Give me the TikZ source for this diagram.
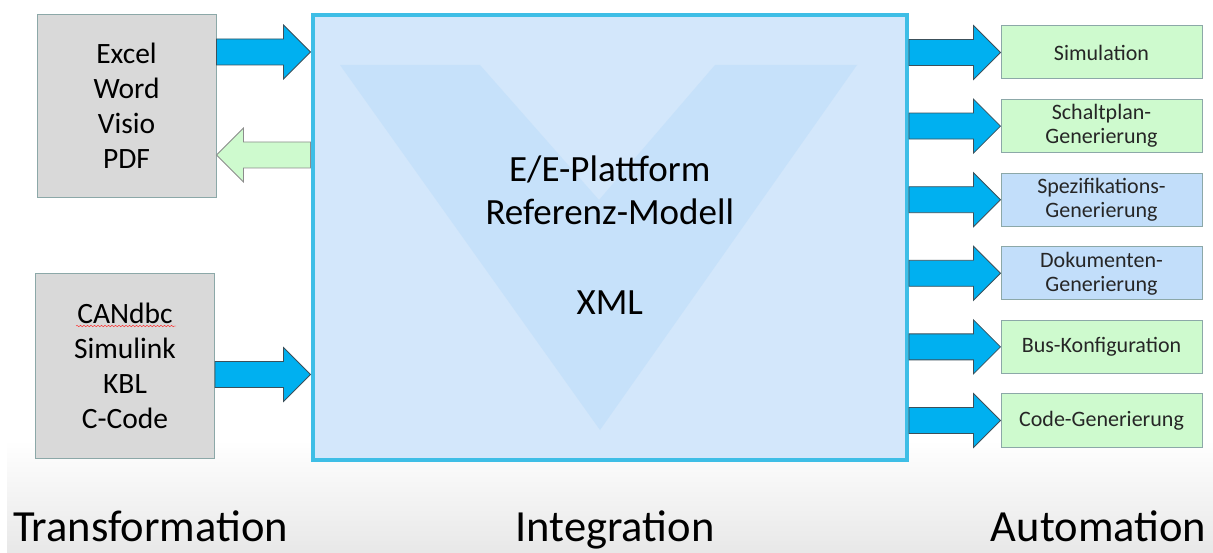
\documentclass[tikz,border=0pt]{standalone}
\usepackage{fontspec}
\setmainfont{Carlito}
\usetikzlibrary{calc,positioning,decorations.pathmorphing}

\definecolor{boxgrey}{RGB}{217,217,217}
\definecolor{boxedge}{RGB}{140,168,168}
\definecolor{coreblue}{RGB}{211,231,251}
\definecolor{vblue}{RGB}{198,225,250}
\definecolor{coreedge}{RGB}{62,190,230}
\definecolor{arrowblue}{RGB}{0,176,240}
\definecolor{arrowedge}{RGB}{60,80,90}
\definecolor{outgreen}{RGB}{206,250,206}
\definecolor{outblue}{RGB}{194,222,250}

% block arrow from #2 to #3, tip at #3
\newcommand{\fatarrow}[3][fatblue]{%
  \coordinate (fa-s) at (#2);
  \coordinate (fa-t) at (#3);
  \coordinate (fa-b) at ($(fa-t)!27pt!(fa-s)$);
  \draw[#1] ($(fa-s)!13pt!90:(fa-t)$) -- ($(fa-b)!13pt!90:(fa-t)$)
    -- ($(fa-b)!27pt!90:(fa-t)$) -- (fa-t) -- ($(fa-b)!27pt!-90:(fa-t)$)
    -- ($(fa-b)!13pt!-90:(fa-t)$) -- ($(fa-s)!13pt!-90:(fa-t)$) -- cycle;}

\tikzset{
  srcbox/.style={draw=boxedge, fill=boxgrey, line width=1pt, minimum width=179pt,
    minimum height=183pt, align=center, font=\fontsize{29.5}{35}\selectfont},
  outbox/.style={draw=boxedge, line width=1pt, minimum width=201pt, minimum height=53pt,
    align=center, font=\fontsize{22}{24}\selectfont, text=black!85},
  fatblue/.style={draw=arrowedge, fill=arrowblue, line width=0.8pt},
  fatgreen/.style={draw=black!45, fill=outgreen, line width=0.8pt},
  phase/.style={font=\fontsize{44.5}{50}\selectfont, anchor=base}
}

\begin{document}
\begin{tikzpicture}[x=1pt, y=1pt]
  \useasboundingbox (0,0) rectangle (1213,552);
  \shade[top color=white, bottom color=black!9] (7,0) rectangle (1213,112);

  % sources
  \node[srcbox] (office) at (126.5,446) {Excel\\Word\\Visio\\PDF};
  \node[srcbox, minimum height=184pt] (tools) at (125,186)
    {CANdbc\\Simulink\\KBL\\C-Code};
  \draw[red!85, decorate, decoration={snake, amplitude=0.8pt, segment length=3.5pt}]
    (76,226) -- (176,226);

  % reference model, the V behind its text
  \node[draw=coreedge, fill=coreblue, line width=4pt, minimum width=594.5pt,
    minimum height=444.5pt] (core) at (609.75,314.75) {};
  \fill[vblue] (340,487) -- (480,487) -- (599,352) -- (715,487)
    -- (857,487) -- (600,122) -- cycle;
  \node[align=center, font=\fontsize{37}{43}\selectfont] (model) at (609.75,317)
    {E/E-Plattform\\Referenz-Modell\\[47pt]XML};

  % outputs
  \node[outbox, fill=outgreen] (sim) at (1101.5,499.5) {Simulation};
  \node[outbox, fill=outgreen, below=19.6pt of sim] (wiring) {Schaltplan-\\Generierung};
  \node[outbox, fill=outblue, below=19.6pt of wiring] (spec) {Spezifikations-\\Generierung};
  \node[outbox, fill=outblue, below=19.6pt of spec] (docs) {Dokumenten-\\Generierung};
  \node[outbox, fill=outgreen, below=19.6pt of docs] (bus) {Bus-Konfiguration};
  \node[outbox, fill=outgreen, below=19.6pt of bus] (code) {Code-Generierung};

  % arrows
  \fatarrow{office.east |- 0,500}{core.west |- 0,500}
  \fatarrow[fatgreen]{core.west |- 0,397}{office.east |- 0,397}
  \fatarrow{tools.east |- 0,177.5}{core.west |- 0,177.5}
  \foreach \t in {sim,wiring,spec,docs,bus,code}{
    \fatarrow{core.east |- \t.west}{\t.west}
  }

  \node[phase] (trans) at (150.5,11) {Transformation};
  \node[phase] (integ) at (615,11) {Integration};
  \node[phase] (autom) at (1098.5,11) {Automation};
\end{tikzpicture}
\end{document}
